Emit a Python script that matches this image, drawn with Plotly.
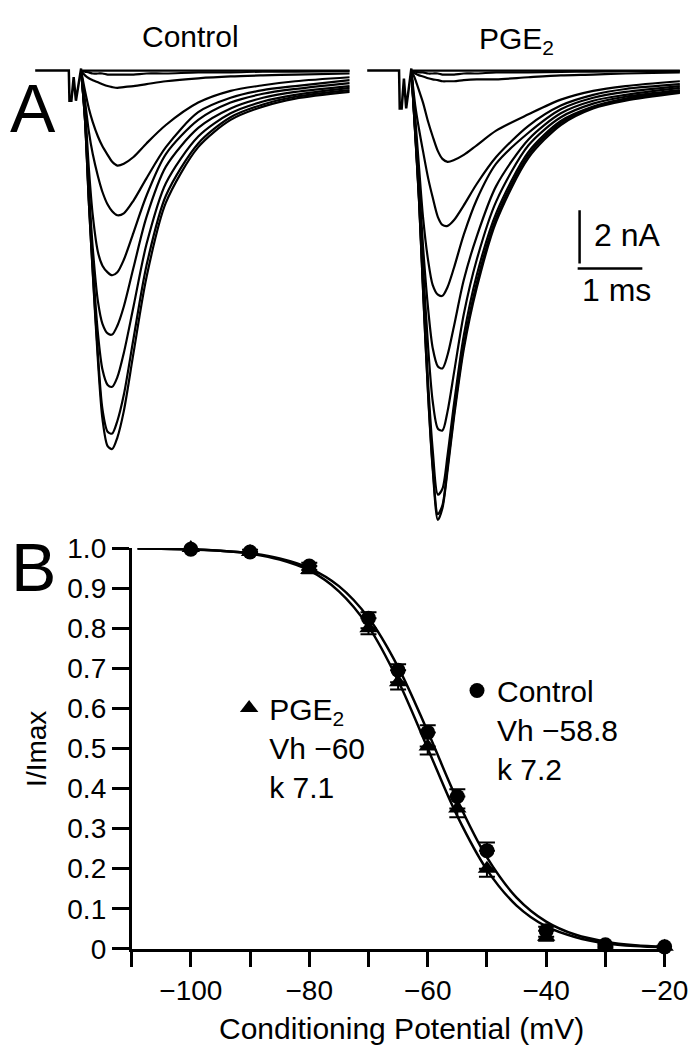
import plotly.graph_objects as go

W, H = 698, 1050
FONT = "Liberation Sans, Arial, sans-serif"

# ---- panel A: Na+ current sweeps (time in ms from test pulse onset, current in nA)
ARTIFACT_T = [-0.52, 0.0, 0.01, 0.04, 0.075, 0.11, 0.19]
CTRL_ARTIFACT_I = [0, 0, -1.13, -1.13, -0.25, -1.13, 0.08]
PGE_ARTIFACT_I = [0, 0, -1.42, -1.42, -0.3, -1.42, 0.08]

TEST_T = [0.19, 0.25, 0.31, 0.37, 0.45, 0.52, 0.6, 0.67, 0.75, 0.85, 1.0, 1.2, 1.5, 2.0, 2.5, 3.0, 3.5, 4.34]

CTRL_SWEEPS = [
    [0, 0, 0, 0, 0, 0, 0, 0, 0, 0, 0, 0, 0, 0, 0, 0, 0, 0],
    [0, -0.04, -0.07, -0.11, -0.11, -0.11, -0.15, -0.15, -0.15, -0.15, -0.15, -0.11, -0.11, -0.07, -0.07, -0.04, -0.04, -0.02],
    [0, -0.18, -0.29, -0.36, -0.44, -0.51, -0.58, -0.62, -0.65, -0.62, -0.58, -0.51, -0.40, -0.29, -0.22, -0.18, -0.15, -0.11],
    [0, -0.76, -1.42, -1.93, -2.47, -2.84, -3.16, -3.42, -3.56, -3.49, -3.24, -2.73, -2.04, -1.20, -0.76, -0.55, -0.40, -0.25],
    [0, -1.13, -2.29, -3.13, -3.96, -4.55, -5.02, -5.27, -5.42, -5.35, -4.87, -4.04, -2.87, -1.56, -1.02, -0.73, -0.58, -0.36],
    [0, -1.42, -3.67, -5.42, -6.80, -7.31, -7.56, -7.67, -7.56, -7.09, -6.07, -4.69, -3.13, -1.85, -1.20, -0.87, -0.69, -0.47],
    [0, -1.67, -4.40, -6.65, -8.65, -9.49, -9.85, -9.89, -9.56, -8.84, -7.38, -5.49, -3.60, -2.15, -1.42, -1.02, -0.80, -0.58],
    [0, -1.78, -4.76, -7.24, -9.85, -11.20, -11.78, -11.85, -11.49, -10.58, -8.84, -6.51, -4.22, -2.47, -1.60, -1.16, -0.91, -0.65],
    [0, -1.85, -4.95, -7.53, -10.65, -12.69, -13.53, -13.60, -13.13, -12.15, -10.04, -7.31, -4.69, -2.73, -1.75, -1.27, -0.98, -0.73],
    [0, -1.85, -4.95, -7.60, -10.87, -13.05, -14.07, -14.18, -13.75, -12.76, -10.58, -7.75, -4.95, -2.87, -1.85, -1.35, -1.05, -0.80],
]

PGE_SWEEPS = [
    [0, 0, 0, 0, 0, 0, 0, 0, 0, 0, 0, 0, 0, 0, 0, 0, 0, 0],
    [0, -0.04, -0.07, -0.07, -0.11, -0.11, -0.11, -0.15, -0.15, -0.15, -0.11, -0.11, -0.07, -0.07, -0.05, -0.04, -0.02, -0.02],
    [0, -0.11, -0.18, -0.22, -0.29, -0.33, -0.36, -0.40, -0.40, -0.40, -0.36, -0.33, -0.33, -0.25, -0.18, -0.15, -0.11, -0.07],
    [0, -0.33, -0.76, -1.20, -1.93, -2.47, -3.02, -3.31, -3.42, -3.35, -3.16, -2.80, -2.25, -1.64, -1.09, -0.76, -0.58, -0.40],
    [0, -1.31, -2.22, -3.02, -4.04, -4.76, -5.49, -5.78, -5.82, -5.60, -5.05, -4.25, -3.24, -2.07, -1.31, -0.91, -0.69, -0.51],
    [0, -1.78, -3.67, -5.49, -7.13, -8.04, -8.40, -8.44, -8.11, -7.38, -6.15, -4.84, -3.49, -2.33, -1.45, -1.02, -0.80, -0.58],
    [0, -2.04, -4.22, -6.58, -8.95, -10.40, -11.09, -11.16, -10.65, -9.56, -7.85, -6.22, -4.33, -2.58, -1.60, -1.13, -0.91, -0.65],
    [0, -2.22, -4.58, -7.31, -10.40, -12.40, -13.42, -13.49, -12.76, -11.31, -9.13, -7.09, -4.91, -2.80, -1.75, -1.24, -0.98, -0.73],
    [0, -2.33, -4.84, -7.96, -11.75, -14.22, -15.89, -15.67, -14.40, -12.47, -9.93, -7.67, -5.35, -3.05, -1.89, -1.35, -1.05, -0.76],
    [0, -2.40, -4.95, -8.18, -12.15, -14.84, -16.62, -16.29, -14.84, -12.84, -10.29, -7.96, -5.53, -3.16, -1.96, -1.38, -1.09, -0.80],
    [0, -2.40, -4.95, -8.22, -12.22, -14.95, -16.84, -16.40, -14.98, -12.98, -10.44, -8.15, -5.67, -3.27, -2.04, -1.42, -1.13, -0.84],
]

SCALE_MS = 1.0
SCALE_NA = 2.0

# ---- panel B: steady-state inactivation
V = [-100, -90, -80, -70, -65, -60, -55, -50, -40, -30, -20]
CTRL_MEAN = [0.997, 0.99, 0.955, 0.825, 0.695, 0.54, 0.38, 0.245, 0.045, 0.01, 0.005]
CTRL_SEM = [0.005, 0.006, 0.008, 0.015, 0.015, 0.018, 0.018, 0.02, 0.01, 0.004, 0.003]
PGE_MEAN = [1.0, 0.99, 0.945, 0.80, 0.665, 0.505, 0.35, 0.20, 0.03, 0.005, 0.005]
PGE_SEM = [0.004, 0.006, 0.008, 0.015, 0.018, 0.02, 0.022, 0.02, 0.01, 0.004, 0.003]

FIT_V = [-109, -105, -100, -95, -90, -85, -80, -75, -70, -65, -60, -55, -50, -45, -40, -35, -30, -25, -20]
CTRL_FIT = [0.999, 0.998, 0.997, 0.993, 0.987, 0.974, 0.950, 0.905, 0.826, 0.703, 0.542, 0.371, 0.228, 0.128, 0.068, 0.035, 0.018, 0.009, 0.005]
PGE_FIT = [0.999, 0.998, 0.996, 0.993, 0.986, 0.971, 0.944, 0.892, 0.804, 0.669, 0.500, 0.331, 0.197, 0.108, 0.056, 0.029, 0.014, 0.007, 0.004]

X_TICKS = [-110, -100, -90, -80, -70, -60, -50, -40, -30, -20]
X_TICK_TEXT = ["", "−100", "", "−80", "", "−60", "", "−40", "", "−20"]
Y_TICKS = [0, 0.1, 0.2, 0.3, 0.4, 0.5, 0.6, 0.7, 0.8, 0.9, 1.0]
Y_TICK_TEXT = ["0", "0.1", "0.2", "0.3", "0.4", "0.5", "0.6", "0.7", "0.8", "0.9", "1.0"]


def px(x):
    return x / W


def py(y):
    return 1 - y / H


def label(text, x, y, size, **kw):
    # paper-anchored text, centred on the given pixel position
    d = dict(text=text, x=px(x), y=py(y), xref="paper", yref="paper", showarrow=False,
             xanchor="center", yanchor="middle", font=dict(family=FONT, size=size, color="black"))
    d.update(kw)
    return d


fig = go.Figure()

# sweeps
fig.add_trace(go.Scatter(x=ARTIFACT_T, y=CTRL_ARTIFACT_I, mode="lines",
                         line=dict(color="black", width=2.5),
                         xaxis="x", yaxis="y", showlegend=False, hoverinfo="skip"))
for sweep in CTRL_SWEEPS:
    fig.add_trace(go.Scatter(x=TEST_T, y=sweep, mode="lines",
                             line=dict(color="black", width=2.2, shape="spline", smoothing=0.8),
                             xaxis="x", yaxis="y", showlegend=False, hoverinfo="skip"))

fig.add_trace(go.Scatter(x=ARTIFACT_T, y=PGE_ARTIFACT_I, mode="lines",
                         line=dict(color="black", width=2.5),
                         xaxis="x2", yaxis="y2", showlegend=False, hoverinfo="skip"))
for sweep in PGE_SWEEPS:
    fig.add_trace(go.Scatter(x=TEST_T, y=sweep, mode="lines",
                             line=dict(color="black", width=2.2, shape="spline", smoothing=0.8),
                             xaxis="x2", yaxis="y2", showlegend=False, hoverinfo="skip"))

# Boltzmann fits
for fit in [CTRL_FIT, PGE_FIT]:
    fig.add_trace(go.Scatter(x=FIT_V, y=fit, mode="lines",
                             line=dict(color="black", width=2.5, shape="spline"),
                             xaxis="x3", yaxis="y3", showlegend=False, cliponaxis=False))

fig.add_trace(go.Scatter(
    x=V, y=PGE_MEAN, mode="markers", xaxis="x3", yaxis="y3", cliponaxis=False,
    marker=dict(symbol="triangle-up", size=16, color="black"),
    error_y=dict(type="data", symmetric=False, array=[0] * len(V), arrayminus=PGE_SEM,
                 color="black", thickness=2, width=8),
    name="PGE<sub>2</sub><br>Vh −60<br>k 7.1", legend="legend2"))

fig.add_trace(go.Scatter(
    x=V, y=CTRL_MEAN, mode="markers", xaxis="x3", yaxis="y3", cliponaxis=False,
    marker=dict(symbol="circle", size=15, color="black"),
    error_y=dict(type="data", symmetric=False, array=CTRL_SEM, arrayminus=[0] * len(V),
                 color="black", thickness=2, width=8),
    name="Control<br>Vh −58.8<br>k 7.2", legend="legend"))

# scale bar (drawn in PGE2 panel units)
sb_t, sb_i = 2.76, -7.42
fig.add_shape(type="line", xref="x2", yref="y2", x0=sb_t, x1=sb_t + SCALE_MS, y0=sb_i, y1=sb_i,
              line=dict(color="black", width=2.5))
fig.add_shape(type="line", xref="x2", yref="y2", x0=sb_t + 0.03, x1=sb_t + 0.03,
              y0=sb_i + 0.19, y1=sb_i + 0.19 + SCALE_NA, line=dict(color="black", width=2.5))

hidden = dict(visible=False, showgrid=False, zeroline=False)
legend_style = dict(xanchor="left", yanchor="top", bgcolor="rgba(0,0,0,0)", borderwidth=0,
                    valign="top", font=dict(family=FONT, size=30, color="black"))

fig.update_layout(
    width=W, height=H, autosize=False,
    margin=dict(l=0, r=0, t=0, b=0),
    paper_bgcolor="white", plot_bgcolor="white",
    font=dict(family=FONT, color="black"),
    xaxis=dict(domain=[px(28), px(354)], range=[-0.522, 4.343], anchor="y", **hidden),
    yaxis=dict(domain=[py(530), py(30)], range=[-17.49, 0.691], anchor="x", **hidden),
    xaxis2=dict(domain=[px(372), px(697)], range=[-0.4925, 4.358], anchor="y2", **hidden),
    yaxis2=dict(domain=[py(530), py(30)], range=[-17.49, 0.691], anchor="x2", **hidden),
    xaxis3=dict(domain=[px(128), px(680)], range=[-110, -20], anchor="y3",
                showline=True, linecolor="black", linewidth=2.5, ticks="outside",
                ticklen=15, tickwidth=2.5, tickcolor="black", tickvals=X_TICKS,
                ticktext=X_TICK_TEXT, tickfont=dict(family=FONT, size=28, color="black"),
                ticklabeloverflow="allow", showgrid=False, zeroline=False),
    yaxis3=dict(domain=[py(954), py(541)], range=[0, 1], anchor="x3",
                showline=True, linecolor="black", linewidth=2.5, ticks="outside",
                ticklen=17, tickwidth=2.5, tickcolor="black", tickvals=Y_TICKS,
                ticktext=Y_TICK_TEXT, tickfont=dict(family=FONT, size=28, color="black"),
                showgrid=False, zeroline=False),
    legend=dict(x=px(465), y=py(661), **legend_style),
    legend2=dict(x=px(229), y=py(679), **legend_style),
    annotations=[
        label("Control", 189, 14, 30),
        label("PGE<sub>2</sub>", 527, 18, 30),
        label("A", 26, 88, 68),
        label("B", 26, 561, 68),
        label("2 nA", 605, 218, 32, xanchor="left"),
        label("1 ms", 630, 275, 32),
        label("I/Imax", 30, 748, 28, textangle=-90),
        label("Conditioning Potential (mV)", 408, 1036, 30),
    ],
)

fig.write_html("out.html")
